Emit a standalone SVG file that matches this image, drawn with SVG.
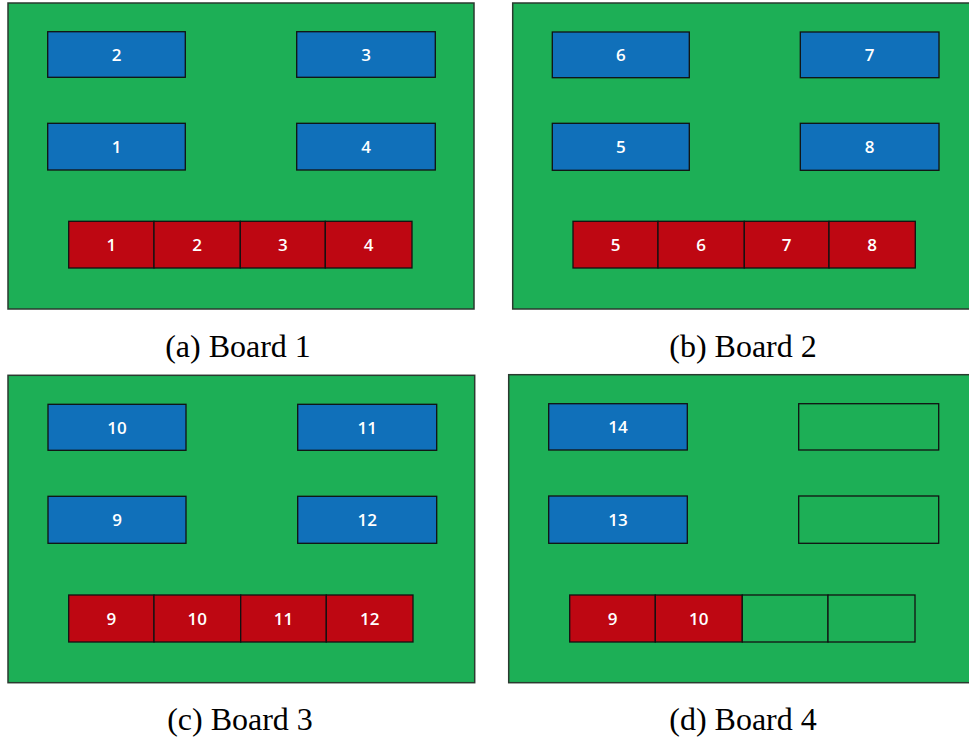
<svg xmlns="http://www.w3.org/2000/svg" width="969" height="742" viewBox="0 0 969 742">
<style>
.board{fill:#1DAF56;stroke:#2a3a2f;stroke-width:1.5}
.blue{fill:#1070BA;stroke:#111;stroke-width:1.3}
.red{fill:#BE0712;stroke:#111;stroke-width:1.3}
.empty{fill:#1DAF56;stroke:#111;stroke-width:1.3}
.lbl{font-family:"Open Sans","Noto Sans",sans-serif;font-weight:600;font-size:17px;fill:#fff;text-anchor:middle}
.cap{font-family:"Liberation Serif","DejaVu Serif",serif;font-size:32px;fill:#000;text-anchor:middle}
</style>
<rect width="969" height="742" fill="#fff"/>

<g id="boardA">
<rect class="board" x="8" y="3" width="466" height="306"/>
<g id="a-b2"><rect class="blue" x="47.7" y="31.7" width="137.6" height="45.6"/><text class="lbl" x="116.5" y="60.5">2</text></g>
<g id="a-b3"><rect class="blue" x="296.7" y="31.7" width="138.6" height="45.6"/><text class="lbl" x="366" y="60.5">3</text></g>
<g id="a-b1"><rect class="blue" x="47.7" y="123.3" width="137.6" height="46.7"/><text class="lbl" x="116.5" y="153">1</text></g>
<g id="a-b4"><rect class="blue" x="296.7" y="123.3" width="138.6" height="46.7"/><text class="lbl" x="366" y="153">4</text></g>
<g id="a-r1"><rect class="red" x="68.7" y="221.3" width="85.3" height="46.7"/><text class="lbl" x="111.3" y="251">1</text></g>
<g id="a-r2"><rect class="red" x="154" y="221.3" width="86.3" height="46.7"/><text class="lbl" x="197.2" y="251">2</text></g>
<g id="a-r3"><rect class="red" x="240.3" y="221.3" width="85" height="46.7"/><text class="lbl" x="282.8" y="251">3</text></g>
<g id="a-r4"><rect class="red" x="325.3" y="221.3" width="86.7" height="46.7"/><text class="lbl" x="368.7" y="251">4</text></g>
</g>
<text class="cap" x="238" y="357">(a) Board 1</text>

<g id="boardB">
<rect class="board" x="512.7" y="3" width="460" height="306"/>
<g id="b-b6"><rect class="blue" x="552.3" y="32" width="137" height="45.7"/><text class="lbl" x="620.8" y="61">6</text></g>
<g id="b-b7"><rect class="blue" x="800.3" y="32" width="138.7" height="45.7"/><text class="lbl" x="869.6" y="61">7</text></g>
<g id="b-b5"><rect class="blue" x="552.3" y="123.3" width="137" height="47"/><text class="lbl" x="620.8" y="153">5</text></g>
<g id="b-b8"><rect class="blue" x="800.3" y="123.3" width="138.7" height="47"/><text class="lbl" x="869.6" y="153">8</text></g>
<g id="b-r5"><rect class="red" x="573" y="221.3" width="85" height="46.7"/><text class="lbl" x="615.5" y="251">5</text></g>
<g id="b-r6"><rect class="red" x="658" y="221.3" width="86.3" height="46.7"/><text class="lbl" x="701.2" y="251">6</text></g>
<g id="b-r7"><rect class="red" x="744.3" y="221.3" width="84.7" height="46.7"/><text class="lbl" x="786.7" y="251">7</text></g>
<g id="b-r8"><rect class="red" x="829" y="221.3" width="86.3" height="46.7"/><text class="lbl" x="872.2" y="251">8</text></g>
</g>
<text class="cap" x="743" y="357">(b) Board 2</text>

<g id="boardC">
<rect class="board" x="8" y="375.3" width="466.7" height="307.4"/>
<g id="c-b10"><rect class="blue" x="48" y="404.3" width="138" height="46"/><text class="lbl" x="117" y="433.5">10</text></g>
<g id="c-b11"><rect class="blue" x="297.7" y="404.3" width="139" height="46"/><text class="lbl" x="367.2" y="433.5">11</text></g>
<g id="c-b9"><rect class="blue" x="48" y="496.3" width="138" height="47"/><text class="lbl" x="117" y="526">9</text></g>
<g id="c-b12"><rect class="blue" x="297.7" y="496.3" width="139" height="47"/><text class="lbl" x="367.2" y="526">12</text></g>
<g id="c-r9"><rect class="red" x="68.7" y="595" width="85.3" height="47"/><text class="lbl" x="111.3" y="624.8">9</text></g>
<g id="c-r10"><rect class="red" x="154" y="595" width="86.7" height="47"/><text class="lbl" x="197.3" y="624.8">10</text></g>
<g id="c-r11"><rect class="red" x="240.7" y="595" width="85.6" height="47"/><text class="lbl" x="283.5" y="624.8">11</text></g>
<g id="c-r12"><rect class="red" x="326.3" y="595" width="86.7" height="47"/><text class="lbl" x="369.7" y="624.8">12</text></g>
</g>
<text class="cap" x="240" y="730">(c) Board 3</text>

<g id="boardD">
<rect class="board" x="508.7" y="374.7" width="464" height="308"/>
<g id="d-b14"><rect class="blue" x="548.7" y="403.7" width="138.6" height="46.3"/><text class="lbl" x="618" y="433">14</text></g>
<g id="d-e1"><rect class="empty" x="798.7" y="403.7" width="140" height="46.3"/></g>
<g id="d-b13"><rect class="blue" x="548.7" y="496" width="138.6" height="47.3"/><text class="lbl" x="618" y="525.8">13</text></g>
<g id="d-e2"><rect class="empty" x="798.7" y="496" width="140" height="47.3"/></g>
<g id="d-r9"><rect class="red" x="569.7" y="595" width="85.6" height="47"/><text class="lbl" x="612.5" y="624.8">9</text></g>
<g id="d-r10"><rect class="red" x="655.3" y="595" width="87" height="47"/><text class="lbl" x="698.8" y="624.8">10</text></g>
<g id="d-e3"><rect class="empty" x="742.3" y="595" width="85.7" height="47"/></g>
<g id="d-e4"><rect class="empty" x="828" y="595" width="87" height="47"/></g>
</g>
<text class="cap" x="743" y="730">(d) Board 4</text>
</svg>
